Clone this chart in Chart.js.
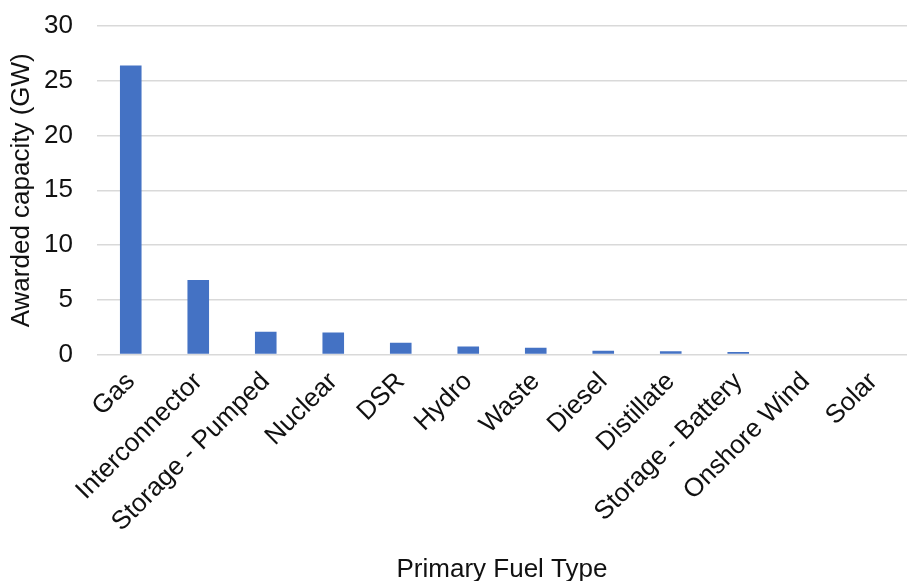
<!DOCTYPE html>
<html>
<head>
<meta charset="utf-8">
<script src="https://cdn.jsdelivr.net/npm/chart.js@4/dist/chart.umd.min.js"></script>
<style>
  html, body { margin: 0; padding: 0; background: #ffffff; }
  #wrap { width: 907px; height: 581px; }
</style>
</head>
<body>
<div id="wrap"><canvas id="c" width="907" height="581"></canvas></div>
<script>
// Awarded capacity by primary fuel type (GW)
const categories = [
  'Gas', 'Interconnector', 'Storage - Pumped', 'Nuclear', 'DSR', 'Hydro',
  'Waste', 'Diesel', 'Distillate', 'Storage - Battery', 'Onshore Wind', 'Solar'
];
const capacityGW = [26.4, 6.8, 2.07, 2.02, 1.07, 0.73, 0.62, 0.34, 0.31, 0.24, 0, 0];
const yTicks = [0, 5, 10, 15, 20, 25, 30];

const font = { family: '"Liberation Sans", Arial, sans-serif', size: 26 };
const textColor = '#111111';

new Chart(document.getElementById('c'), {
  type: 'bar',
  data: {
    labels: categories,
    datasets: [{
      data: capacityGW,
      backgroundColor: '#4472C4',
      borderWidth: 0,
      categoryPercentage: 0.8,
      barPercentage: 0.4
    }]
  },
  options: {
    responsive: false,
    animation: false,
    layout: { padding: { left: 6, right: 0, top: 26, bottom: -4 } },
    plugins: { legend: { display: false }, tooltip: { enabled: false } },
    scales: {
      x: {
        grid: { display: false },
        border: { display: false },
        ticks: {
          color: textColor, font: font,
          minRotation: 45, maxRotation: 45, autoSkip: false, padding: 4
        },
        title: {
          display: true, text: 'Primary Fuel Type',
          color: textColor, font: font, padding: { top: 12, bottom: 0 }
        }
      },
      y: {
        min: 0, max: 30,
        afterBuildTicks: (axis) => { axis.ticks = yTicks.map(v => ({ value: v })); },
        afterFit: (axis) => { axis.width = 91; axis.paddingTop = 0; },
        grid: { color: '#d9d9d9', lineWidth: 1.5, drawTicks: false },
        border: { display: false },
        ticks: { color: textColor, font: font, padding: 24 },
        title: {
          display: true, text: 'Awarded capacity (GW)',
          color: textColor, font: font, padding: { top: 0, bottom: 2 }
        }
      }
    }
  }
});
</script>
</body>
</html>
